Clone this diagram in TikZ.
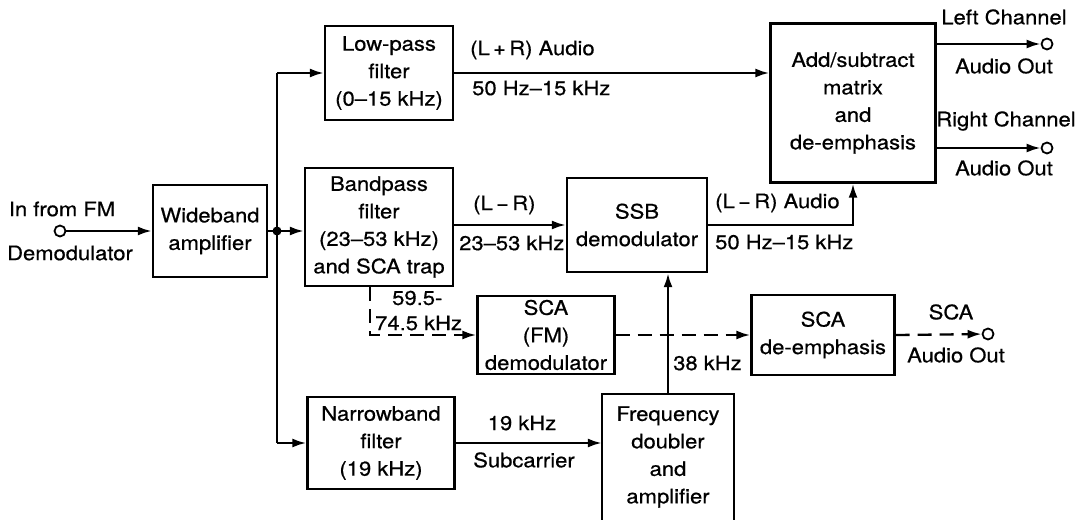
\documentclass[tikz,border=0pt]{standalone}
\usepackage{fontspec}
\setmainfont{TeX Gyre Heros}[FakeStretch=1.1,FakeBold=0.6]
\usetikzlibrary{arrows.meta}
\begin{document}
\begin{tikzpicture}[x=1pt,y=-1pt,
  box/.style={draw,line width=2.4pt,inner sep=0pt,align=center,font=\fontsize{20}{27.5}\selectfont},
  lbl/.style={inner sep=0pt,font=\fontsize{20}{24}\selectfont},
  conn/.style={line width=2.3pt},
  arr/.style={conn,-{Latex[length=14pt,width=9pt]}},
  dsh/.style={dash pattern=on 14pt off 8pt},
  term/.style={circle,draw,line width=1.8pt,minimum size=11pt,inner sep=0pt}]
\useasboundingbox (0,0) rectangle (1091,519);
% boxes
\node[box,minimum width=114pt,minimum height=92pt] (wide) at (210,231) {Wideband\\amplifier};
\node[box,minimum width=128pt,minimum height=94pt] (lpf) at (389,73) {Low-pass\\filter\\(0–15 kHz)};
\node[box,minimum width=148pt,minimum height=118pt] (bpf) at (379,227) {Bandpass\\filter\\(23–53 kHz)\\and SCA trap};
\node[box,minimum width=140pt,minimum height=94pt] (ssb) at (637,225) {SSB\\demodulator};
\node[box,minimum width=165pt,minimum height=159pt] (add) at (853,103) {Add/subtract\\matrix\\and\\de-emphasis};
\node[box,minimum width=137pt,minimum height=78pt] (scadem) at (546,335) {SCA\\(FM)\\demodulator};
\node[box,minimum width=143pt,minimum height=80pt] (scade) at (823,335) {SCA\\de-emphasis};
\node[box,minimum width=147pt,minimum height=92pt] (nbf) at (381,443) {Narrowband\\filter\\(19 kHz)};
\node[box,draw=none,minimum width=130pt,minimum height=124pt] (fd) at (668,457) {Frequency\\doubler\\and\\amplifier};
\draw[line width=2.4pt] (fd.south west) |- (fd.north east) -- (fd.south east);
% terminals
\node[term] (inC) at (60,231) {};
\node[term] (lout) at (1047,44) {};
\node[term] (rout) at (1047,148) {};
\node[term] (scaout) at (988,334) {};
\coordinate (jn) at (277,231);
\coordinate (dk) at (370,335);
% connectors
\draw[arr] (inC) -- (wide);
\draw[conn] (wide.east) -- (jn);
\fill (jn) circle (4.5pt);
\draw[conn] (jn |- lpf.west) -- (jn |- nbf.west);
\draw[arr] (jn |- lpf.west) -- (lpf.west);
\draw[arr] (jn) -- (jn -| bpf.west);
\draw[arr] (jn |- nbf.west) -- (nbf.west);
\draw[arr] (lpf.east) -- (lpf.east -| add.west);
\draw[arr] (bpf.east |- ssb.west) -- (ssb.west);
\draw[arr] (ssb.east) -| (add.south);
\draw[arr] (add.east |- lout) -- (lout);
\draw[arr] (add.east |- rout) -- (rout);
\draw[arr,dsh] (dk |- bpf.south) -- (dk) -- (scadem.west);
\draw[arr,dsh] (scadem.east) -- (scade.west);
\draw[arr,dsh] (scade.east) -- (scaout);
\draw[arr] (fd.north) -- (fd.north |- ssb.south);
\draw[arr] (nbf.east) -- (nbf.east -| fd.west);
% labels
\node[lbl] (l1) at (62,209) {In from FM};
\node[lbl] (l2) at (70,253) {Demodulator};
\node[lbl,anchor=west] (l3) at (470,50) {(L\,+\,R) Audio};
\node[lbl,anchor=west] (l4) at (472,88) {50 Hz–15 kHz};
\node[lbl,anchor=west] (l5) at (473,205) {(L\,−\,R)};
\node[lbl,anchor=west] (l6) at (459,243) {23–53 kHz};
\node[lbl,anchor=west] (l7) at (715,203) {(L\,−\,R) Audio};
\node[lbl,anchor=west] (l8) at (715,242) {50 Hz–15 kHz};
\node[lbl,anchor=west] (l9) at (392,298) {59.5-};
\node[lbl,anchor=west] (l10) at (375,323) {74.5 kHz};
\node[lbl,anchor=west] (l11) at (673,363) {38 kHz};
\node[lbl] (l12) at (522,423) {19 kHz};
\node[lbl] (l13) at (524,460) {Subcarrier};
\node[lbl] (l14) at (951,312) {SCA};
\node[lbl] (l15) at (956,355) {Audio Out};
\node[lbl] (l16) at (1004,17) {Left Channel};
\node[lbl] (l17) at (1004,66) {Audio Out};
\node[lbl] (l18) at (1006,121) {Right Channel};
\node[lbl] (l19) at (1004,168) {Audio Out};
\end{tikzpicture}
\end{document}
